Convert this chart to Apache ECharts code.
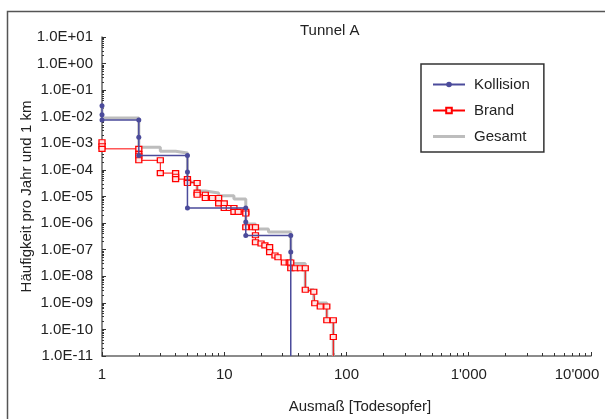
<!DOCTYPE html>
<html>
<head>
<meta charset="utf-8">
<script src="https://cdn.jsdelivr.net/npm/echarts@6/dist/echarts.min.js"></script>
<style>
html,body{margin:0;padding:0;background:#fff;}
#chart{width:605px;height:419px;}
</style>
</head>
<body>
<div id="chart"></div>
<script>
// ---- data ----
const kollisionX = [1, 1, 1, 2, 2, 2, 5, 5, 5, 15, 15, 15, 35, 35, 35];
const kollisionY = [2.6e-2, 1.2e-2, 7.6e-3, 7.6e-3, 1.7e-3, 3.5e-4, 3.5e-4, 8.3e-5, 3.7e-6, 3.7e-6, 1.1e-6, 3.4e-7, 3.4e-7, 8.1e-8, 1e-11];

const brandX = [1, 1, 1, 2, 2, 2, 2, 3, 3, 4, 4, 4, 5, 5, 5, 6, 6, 6, 7, 7, 8, 9, 9, 10, 10, 11, 12, 12, 13, 15, 15, 15, 17, 18, 18, 18, 20, 21.5, 23.5, 23.5, 26, 27.5, 31, 34, 35, 35, 38, 42, 46, 46, 54, 55, 61, 69, 69, 78, 78, 78];
const brandY = [1.1e-3, 7.8e-4, 6.2e-4, 6.2e-4, 4.0e-4, 3.4e-4, 2.3e-4, 2.3e-4, 7.6e-5, 7.6e-5, 5.5e-5, 4.5e-5, 4.5e-5, 3.6e-5, 3.2e-5, 3.2e-5, 1.4e-5, 1.16e-5, 1.16e-5, 8.8e-6, 8.8e-6, 8.8e-6, 5.5e-6, 5.5e-6, 3.7e-6, 3.7e-6, 3.7e-6, 2.65e-6, 2.65e-6, 2.65e-6, 2.3e-6, 7e-7, 7e-7, 7e-7, 3.5e-7, 1.9e-7, 1.7e-7, 1.45e-7, 1.25e-7, 8.1e-8, 6e-8, 5.2e-8, 3.3e-8, 3.3e-8, 3.3e-8, 2e-8, 2e-8, 2e-8, 2e-8, 3.1e-9, 2.6e-9, 9.7e-10, 7.3e-10, 7.3e-10, 2.2e-10, 2.2e-10, 5.2e-11, 1e-11];

const gesamtX = [1, 1, 2, 2, 3, 3, 4, 4, 5, 5, 6, 6, 7, 7, 9, 9, 12, 12, 15, 15, 18, 18, 23, 23, 35, 35, 46, 46, 54, 54, 69, 69, 78, 78];
const gesamtY = [2.7e-2, 9e-3, 9e-3, 7.1e-4, 7.1e-4, 5.0e-4, 5.0e-4, 4.3e-4, 4.3e-4, 3.4e-5, 3.4e-5, 1.6e-5, 1.6e-5, 1.35e-5, 1.35e-5, 1.07e-5, 1.07e-5, 8e-6, 8e-6, 9.3e-7, 9.3e-7, 6e-7, 6e-7, 4.6e-7, 4.6e-7, 3e-8, 3e-8, 3.1e-9, 3.1e-9, 9.8e-10, 9.8e-10, 2.4e-10, 2.4e-10, 1e-11];

const xTickValues = [1, 10, 100, 1000, 10000];
const xTickLabels = ['1', '10', '100', "1'000", "10'000"];
const seriesNames = ['Kollision', 'Brand', 'Gesamt'];
const titleText = 'Tunnel A';
const xAxisTitle = 'Ausmaß [Todesopfer]';
const yAxisTitle = 'Häufigkeit pro Jahr und 1 km';

// ---- build ----
const FONT = '"Liberation Sans", Arial, sans-serif';
function pairs(xs, ys) {
  return xs.map((x, i) => {
    const item = { value: [x, ys[i]] };
    if (ys[i] <= 1e-11) item.symbol = 'none';
    return item;
  });
}
function yFmt(v) {
  const e = Math.round(Math.log10(v));
  const s = e < 0 ? '-' : '+';
  return '1.0E' + s + String(Math.abs(e)).padStart(2, '0');
}
function xFmt(v) {
  let best = 0;
  xTickValues.forEach((t, i) => { if (Math.abs(Math.log10(t) - Math.log10(v)) < 0.01) best = i; });
  const lab = xTickLabels[best];
  return best === xTickValues.length - 1 ? '{last|' + lab + '}' : lab;
}
const lineIcon = 'path://M0,0L0.01,0L0.01,0.01ZM0,2L32,2L32,5L0,5ZM31.99,7L32,7L32,6.99Z';

const chart = echarts.init(document.getElementById('chart'), null, { renderer: 'canvas' });
chart.setOption({
  animation: false,
  backgroundColor: '#ffffff',
  textStyle: { fontFamily: FONT },
  title: {
    text: titleText, left: 300, top: 23, padding: 0,
    textStyle: { fontFamily: FONT, fontSize: 15, fontWeight: 'normal', color: '#222' }
  },
  graphic: [{
    type: 'rect', silent: true,
    shape: { x: 7.5, y: 11.5, width: 620, height: 430 },
    style: { fill: 'none', stroke: '#555', lineWidth: 1.5 }
  }],
  legend: {
    data: [
      { name: seriesNames[0] },
      { name: seriesNames[1] },
      { name: seriesNames[2], icon: lineIcon, itemStyle: { color: '#BDBDBD' } }
    ],
    orient: 'vertical',
    left: 421, top: 64,
    padding: [13, 14, 8, 11],
    itemWidth: 32, itemHeight: 7, itemGap: 11,
    symbolKeepAspect: false,
    borderColor: '#333', borderWidth: 1.5,
    backgroundColor: '#fff',
    textStyle: { fontFamily: FONT, fontSize: 15, color: '#222', padding: [0, 0, 0, 4] }
  },
  grid: { left: 102, right: 14, top: 37, bottom: 59, containLabel: false },
  xAxis: {
    type: 'log', logBase: 10, min: 1, max: 10000, interval: 1,
    name: xAxisTitle, nameLocation: 'middle', nameGap: 43, nameMoveOverlap: false,
    nameTextStyle: { fontFamily: FONT, fontSize: 15, color: '#222', padding: [0, 0, 0, 27] },
    axisLine: { show: true, lineStyle: { color: '#666', width: 1.5 } },
    axisTick: { show: true, inside: true, length: 4, lineStyle: { color: '#333' } },
    minorTick: { show: true, splitNumber: 9, length: 3, lineStyle: { color: '#333' } },
    splitLine: { show: false },
    axisLabel: {
      fontFamily: FONT, fontSize: 15, color: '#222', margin: 11, formatter: xFmt,
      rich: { last: { fontFamily: FONT, fontSize: 15, color: '#222', padding: [0, 28, 0, 0] } }
    }
  },
  yAxis: {
    type: 'log', logBase: 10, min: 1e-11, max: 10, interval: 1,
    name: yAxisTitle, nameLocation: 'middle', nameGap: 68, nameRotate: 90, nameMoveOverlap: false,
    nameTextStyle: { fontFamily: FONT, fontSize: 15, color: '#222' },
    axisLine: { show: true, lineStyle: { color: '#666', width: 1.5 } },
    axisTick: { show: true, inside: true, length: 4, lineStyle: { color: '#333' } },
    minorTick: { show: true, splitNumber: 9, length: 2, lineStyle: { color: '#333' } },
    splitLine: { show: false },
    axisLabel: { fontFamily: FONT, fontSize: 15, color: '#222', margin: 9, formatter: yFmt, interval: 0 }
  },
  series: [
    {
      name: seriesNames[2], type: 'line', z: 1,
      data: pairs(gesamtX, gesamtY), symbol: 'none',
      lineStyle: { color: '#BDBDBD', width: 3 },
      itemStyle: { color: '#BDBDBD' }
    },
    {
      name: seriesNames[1], type: 'line', z: 3,
      data: pairs(brandX, brandY), symbol: 'rect', symbolSize: [6, 5],
      lineStyle: { color: '#FF0000', width: 1 },
      itemStyle: { color: '#FFE4E4', borderColor: '#FF0000', borderWidth: 1.2 }
    },
    {
      name: seriesNames[0], type: 'line', z: 4,
      data: pairs(kollisionX, kollisionY), symbol: 'circle', symbolSize: 5,
      lineStyle: { color: '#4B4B9B', width: 1.5 },
      itemStyle: { color: '#4B4B9B' }
    }
  ]
});
</script>
</body>
</html>
